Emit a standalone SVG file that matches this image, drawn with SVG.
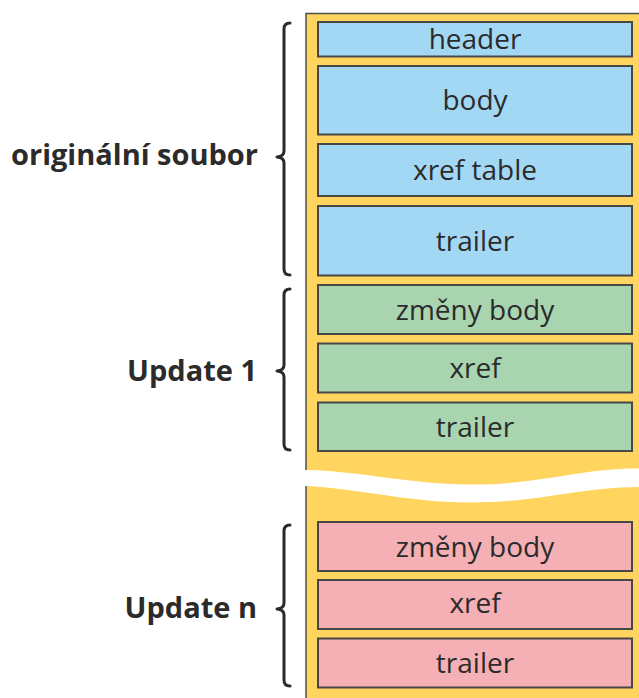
<svg xmlns="http://www.w3.org/2000/svg" width="639" height="698" viewBox="0 0 639 698">
  <style>
    .box { stroke: #474747; stroke-width: 2; }
    .orig { fill: #A3D8F5; }
    .upd1 { fill: #A8D5B0; }
    .updn { fill: #F4B0B4; }
    .lbl { font-family: "Open Sans", "Noto Sans", sans-serif; font-size: 28px; fill: #2b2b2b; text-anchor: middle; }
    .grp { font-family: "Open Sans", "Noto Sans", sans-serif; font-size: 29px; font-weight: bold; fill: #2b2b2b; text-anchor: end; }
    .brace { fill: none; stroke: #2b2b2b; stroke-width: 3; stroke-linecap: round; stroke-linejoin: round; }
  </style>
  <rect width="639" height="698" fill="#ffffff"/>

  <!-- file body -->
  <g id="file">
    <rect x="306" y="13.5" width="345" height="700" fill="#FFD45F" stroke="#4d4d4d" stroke-width="1.5"/>
  </g>

  <!-- original file sections -->
  <g id="orig-header">
    <rect class="box orig" x="318" y="22" width="314" height="34.5"/>
    <text class="lbl" x="475" y="49">header</text>
  </g>
  <g id="orig-body">
    <rect class="box orig" x="318" y="66" width="314" height="68.5"/>
    <text class="lbl" x="475" y="110">body</text>
  </g>
  <g id="orig-xref">
    <rect class="box orig" x="318" y="144" width="314" height="52"/>
    <text class="lbl" x="475" y="180">xref table</text>
  </g>
  <g id="orig-trailer">
    <rect class="box orig" x="318" y="206" width="314" height="69.5"/>
    <text class="lbl" x="475" y="250.5">trailer</text>
  </g>

  <!-- update 1 sections -->
  <g id="upd1-body">
    <rect class="box upd1" x="318" y="285" width="314" height="49"/>
    <text class="lbl" x="475" y="319.5">změny body</text>
  </g>
  <g id="upd1-xref">
    <rect class="box upd1" x="318" y="343.5" width="314" height="49"/>
    <text class="lbl" x="475" y="377.5">xref</text>
  </g>
  <g id="upd1-trailer">
    <rect class="box upd1" x="318" y="402.5" width="314" height="48.5"/>
    <text class="lbl" x="475" y="436.5">trailer</text>
  </g>

  <!-- break in the file -->
  <g id="break">
    <path fill="#ffffff" d="M 284 470 C 350 468, 400 484, 470 484.5 C 540 485, 580 468, 640 468.5 L 640 487 C 580 487, 540 502.5, 470 502.5 C 400 502.5, 350 485, 284 485.5 Z"/>
  </g>

  <!-- update n sections -->
  <g id="updn-body">
    <rect class="box updn" x="318" y="522" width="314" height="49"/>
    <text class="lbl" x="475" y="556.5">změny body</text>
  </g>
  <g id="updn-xref">
    <rect class="box updn" x="318" y="580" width="314" height="49"/>
    <text class="lbl" x="475" y="613">xref</text>
  </g>
  <g id="updn-trailer">
    <rect class="box updn" x="318" y="638.5" width="314" height="49"/>
    <text class="lbl" x="475" y="673">trailer</text>
  </g>

  <!-- group braces -->
  <g id="connectors">
    <path class="brace" d="M 290 23 Q 284 23 284 29 L 284 151 Q 284 156.5 277 157 Q 284 157.5 284 163 L 284 269 Q 284 275 290 275"/>
    <path class="brace" d="M 290 289 Q 284 289 284 295 L 284 365 Q 284 370.5 277 371 Q 284 371.5 284 377 L 284 444 Q 284 450 290 450"/>
    <path class="brace" d="M 290 525 Q 284 525 284 531 L 284 603 Q 284 608.5 277 609 Q 284 609.5 284 615 L 284 680 Q 284 686 290 686"/>
  </g>

  <!-- group labels -->
  <g id="labels">
    <text class="grp" x="258" y="165">originální soubor</text>
    <text class="grp" x="257" y="381">Update 1</text>
    <text class="grp" x="257" y="618">Update n</text>
  </g>
</svg>
